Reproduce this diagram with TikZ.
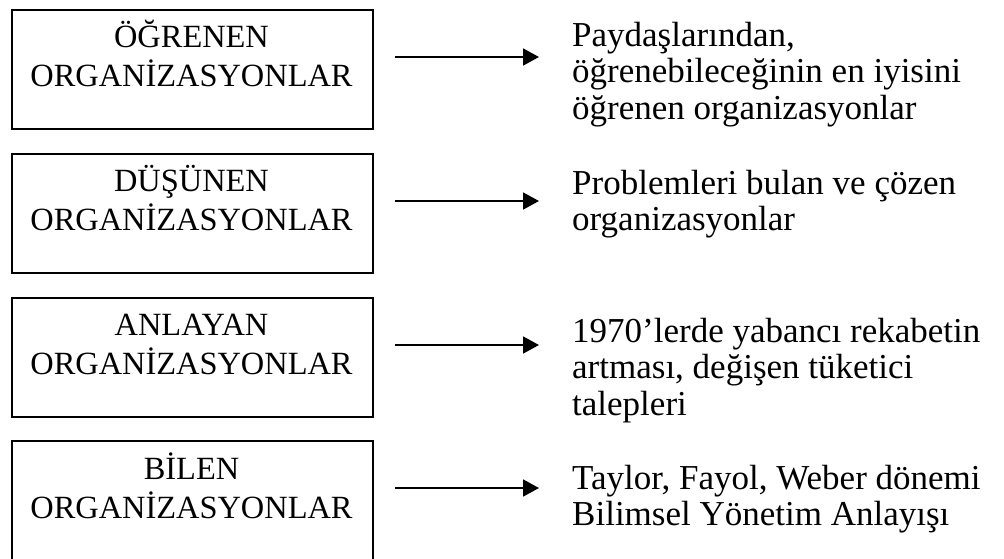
\documentclass[tikz,border=0pt]{standalone}
\usepackage{fontspec}
\setmainfont{Liberation Serif}
\usetikzlibrary{arrows.meta}
\tikzset{
  orgbox/.style={draw=black, line width=1.6pt, minimum width=361pt,
    minimum height=119pt, anchor=north west, inner sep=0pt},
  boxtxt/.style={inner sep=0pt, anchor=base},
  desctxt/.style={inner sep=0pt, anchor=base west},
  flow/.style={line width=1.8pt, -{Triangle[length=16pt,width=17pt]}},
}
% two centred lines inside a box, first baseline as reference
\newcommand{\boxlines}[1]{\parbox[t]{360pt}{\centering\fontsize{32.4}{38.5}\selectfont #1}}
% left-aligned description, first baseline as reference
\newcommand{\desclines}[1]{\parbox[t]{430pt}{\raggedright\fontsize{35}{36.8}\selectfont #1}}
\begin{document}
\begin{tikzpicture}[x=1pt,y=-1pt]
\useasboundingbox (0,0) rectangle (1004,558);

% organisation boxes
\node[orgbox] (b1) at (11,9) {};
\node[orgbox] (b2) at (11,153) {};
\node[orgbox] (b3) at (11,297) {};
\node[orgbox, minimum height=124pt] (b4) at (11,440) {};

\node[boxtxt] (t1) at (191.5,47.5) {\boxlines{ÖĞRENEN\\ORGANİZASYONLAR}};
\node[boxtxt] (t2) at (191.5,191.5) {\boxlines{DÜŞÜNEN\\ORGANİZASYONLAR}};
\node[boxtxt] (t3) at (191.5,335.5) {\boxlines{ANLAYAN\\ORGANİZASYONLAR}};
\node[boxtxt] (t4) at (191.5,479.5) {\boxlines{BİLEN\\ORGANİZASYONLAR}};

% descriptions
\node[desctxt] (d1) at (572,46) {\desclines{Paydaşlarından,\\öğrenebileceğinin en iyisini\\öğrenen organizasyonlar}};
\node[desctxt] (d2) at (572,194) {\desclines{Problemleri bulan ve çözen\\organizasyonlar}};
\node[desctxt] (d3) at (572,342) {\desclines{1970’lerde yabancı rekabetin\\artması, değişen tüketici\\talepleri}};
\node[desctxt] (d4) at (572,489) {\desclines{Taylor, Fayol, Weber dönemi\\Bilimsel Yönetim Anlayışı}};

% arrows between boxes and descriptions
\coordinate (s1) at (395,57);  \coordinate (e1) at (539,57);
\coordinate (s2) at (395,201); \coordinate (e2) at (539,201);
\coordinate (s3) at (395,345); \coordinate (e3) at (539,345);
\coordinate (s4) at (395,488); \coordinate (e4) at (539,488);
\draw[flow] (s1) -- (e1);
\draw[flow] (s2) -- (e2);
\draw[flow] (s3) -- (e3);
\draw[flow] (s4) -- (e4);
\end{tikzpicture}
\end{document}
